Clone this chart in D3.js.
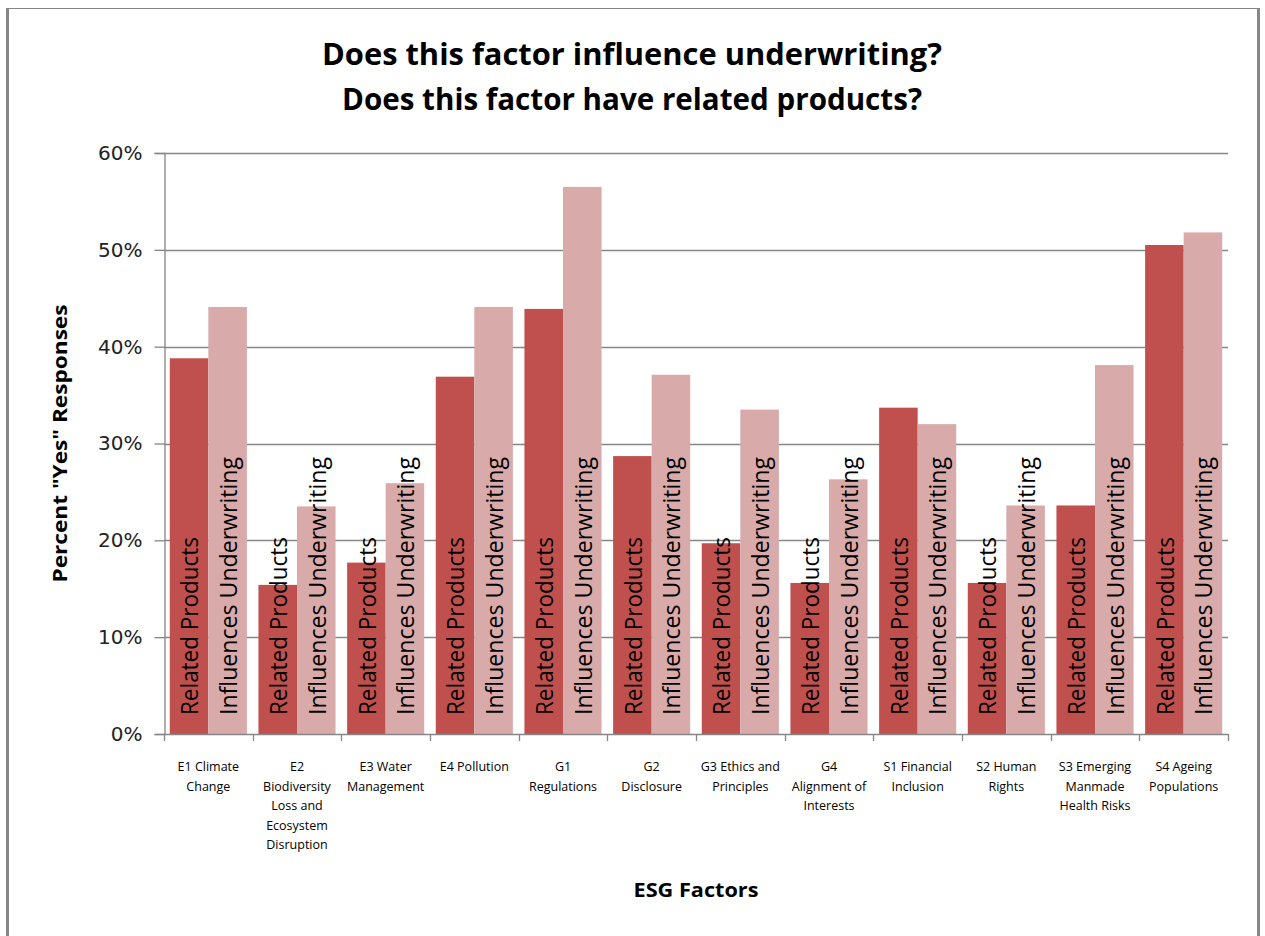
<!DOCTYPE html>
<html>
<head>
<meta charset="utf-8">
<script src="https://cdn.jsdelivr.net/npm/d3@7/dist/d3.min.js"></script>
<style>
  html, body { margin: 0; padding: 0; background: #ffffff; }
  svg { display: block; }
</style>
</head>
<body>
<svg id="chart" width="1265" height="936"></svg>
<script>
// ESG factors surveyed
const categories = [
  "E1 Climate Change",
  "E2 Biodiversity Loss and Ecosystem Disruption",
  "E3 Water Management",
  "E4 Pollution",
  "G1 Regulations",
  "G2 Disclosure",
  "G3 Ethics and Principles",
  "G4 Alignment of Interests",
  "S1 Financial Inclusion",
  "S2 Human Rights",
  "S3 Emerging Manmade Health Risks",
  "S4 Ageing Populations"
];

// Axis tick labels, wrapped as they appear under each group
const tickLabels = [
  ["E1 Climate", "Change"],
  ["E2", "Biodiversity", "Loss and", "Ecosystem", "Disruption"],
  ["E3 Water", "Management"],
  ["E4 Pollution"],
  ["G1", "Regulations"],
  ["G2", "Disclosure"],
  ["G3 Ethics and", "Principles"],
  ["G4", "Alignment of", "Interests"],
  ["S1 Financial", "Inclusion"],
  ["S2 Human", "Rights"],
  ["S3 Emerging", "Manmade", "Health Risks"],
  ["S4 Ageing", "Populations"]
];

const seriesNames = ["Related Products", "Influences Underwriting"];

// Share of "Yes" responses (percent)
const relatedProducts = [38.8, 15.4, 17.7, 36.9, 43.9, 28.7, 19.7, 15.6, 33.7, 15.6, 23.6, 50.5];
const influencesUnderwriting = [44.1, 23.5, 25.9, 44.1, 56.5, 37.1, 33.5, 26.3, 32.0, 23.6, 38.1, 51.8];

const yTicks = [0, 10, 20, 30, 40, 50, 60];

const seriesColors = ["#C0504D", "#D9AAAA"];

const svg = d3.select("#chart");

// Chart area frame
const frame = svg.append("g");
frame.append("line").attr("x1", 6).attr("x2", 1259).attr("y1", 8.5).attr("y2", 8.5)
  .attr("stroke", "#868686").attr("stroke-width", 1.2);
frame.append("line").attr("x1", 7.5).attr("x2", 7.5).attr("y1", 8).attr("y2", 936)
  .attr("stroke", "#868686").attr("stroke-width", 3);
frame.append("line").attr("x1", 1258.5).attr("x2", 1258.5).attr("y1", 8).attr("y2", 936)
  .attr("stroke", "#868686").attr("stroke-width", 3);

const plot = { left: 164, right: 1228, top: 153, bottom: 734 };

const y = d3.scaleLinear().domain([0, 60]).range([plot.bottom, plot.top]);
const x0 = d3.scaleBand().domain(categories).range([plot.left, plot.right]).padding(0);
const x1 = d3.scaleBand().domain(seriesNames).range([0, x0.bandwidth()])
  .paddingInner(0).paddingOuter(0.15);

// Horizontal gridlines
svg.append("g")
  .selectAll("line")
  .data(yTicks.filter(t => t > 0))
  .join("line")
  .attr("x1", plot.left).attr("x2", plot.right)
  .attr("y1", d => Math.round(y(d)) + 0.5).attr("y2", d => Math.round(y(d)) + 0.5)
  .attr("stroke", "#868686").attr("stroke-width", 1.3);

// Y axis
const yAxis = svg.append("g")
  .attr("transform", `translate(${plot.left + 0.5},0)`)
  .call(d3.axisLeft(y).tickValues(yTicks).tickSize(10).tickPadding(12)
    .tickFormat(d => d + "%"));
yAxis.select(".domain").attr("stroke", "#868686").attr("stroke-width", 1.3);
yAxis.selectAll(".tick line").attr("stroke", "#868686").attr("stroke-width", 1.3);
yAxis.selectAll(".tick text")
  .attr("font-family", "'DejaVu Sans', sans-serif")
  .attr("font-size", 20)
  .attr("fill", "#222");

// Bars
const rows = categories.map((c, i) => ({
  category: c,
  values: [relatedProducts[i], influencesUnderwriting[i]]
}));

const groups = svg.append("g")
  .selectAll("g")
  .data(rows)
  .join("g")
  .attr("transform", d => `translate(${x0(d.category)},0)`);

groups.selectAll("rect")
  .data(d => d.values.map((v, k) => ({ series: seriesNames[k], value: v, k })))
  .join("rect")
  .attr("x", d => x1(d.series))
  .attr("width", x1.bandwidth())
  .attr("y", d => y(d.value))
  .attr("height", d => y(0) - y(d.value))
  .attr("fill", d => seriesColors[d.k]);

// Series-name labels rotated inside the base of each bar
const labelLengths = { "Related Products": 178, "Influences Underwriting": 258 };
groups.selectAll("text.series-label")
  .data(d => d.values.map((v, k) => ({ series: seriesNames[k], value: v, k })))
  .join("text")
  .attr("class", "series-label")
  .attr("transform", d => `translate(${x1(d.series) + x1.bandwidth() / 2 + 1},${y(0) - 19}) rotate(-90)`)
  .attr("dy", "0.36em")
  .attr("font-family", "'Open Sans', sans-serif")
  .attr("font-size", 23)
  .attr("textLength", d => labelLengths[d.series])
  .attr("lengthAdjust", "spacingAndGlyphs")
  .attr("fill", "#000")
  .text(d => d.series);

// X axis baseline and category ticks
const xAxis = svg.append("g");
xAxis.append("line")
  .attr("x1", plot.left).attr("x2", plot.right)
  .attr("y1", Math.round(y(0)) + 0.5).attr("y2", Math.round(y(0)) + 0.5)
  .attr("stroke", "#868686").attr("stroke-width", 1.3);
const boundaries = categories.map(c => x0(c)).concat([plot.right]);
xAxis.selectAll("line.tick")
  .data(boundaries)
  .join("line")
  .attr("class", "tick")
  .attr("x1", d => Math.round(d) + 0.5).attr("x2", d => Math.round(d) + 0.5)
  .attr("y1", y(0)).attr("y2", y(0) + 7)
  .attr("stroke", "#868686").attr("stroke-width", 1.3);

// Category tick labels
const tickText = xAxis.selectAll("text.cat")
  .data(categories)
  .join("text")
  .attr("class", "cat")
  .attr("x", d => x0(d) + x0.bandwidth() / 2)
  .attr("y", 771)
  .attr("text-anchor", "middle")
  .attr("font-family", "'Open Sans', sans-serif")
  .attr("font-size", 12.5)
  .attr("fill", "#000");
tickText.each(function(d, i) {
  d3.select(this).selectAll("tspan")
    .data(tickLabels[i])
    .join("tspan")
    .attr("x", x0(d) + x0.bandwidth() / 2)
    .attr("dy", (t, j) => j === 0 ? 0 : 19.5)
    .text(t => t);
});

// Titles
const title = svg.append("g")
  .attr("font-family", "'Open Sans', sans-serif")
  .attr("font-weight", "bold")
  .attr("font-size", 31)
  .attr("fill", "#000")
  .attr("text-anchor", "middle");
title.append("text").attr("x", 632).attr("y", 65)
  .attr("textLength", 620).attr("lengthAdjust", "spacingAndGlyphs")
  .text("Does this factor influence underwriting?");
title.append("text").attr("x", 632).attr("y", 110)
  .attr("textLength", 580).attr("lengthAdjust", "spacingAndGlyphs")
  .text("Does this factor have related products?");

// Axis titles
svg.append("text")
  .attr("transform", `translate(67,${(plot.top + plot.bottom) / 2}) rotate(-90)`)
  .attr("text-anchor", "middle")
  .attr("font-family", "'Open Sans', sans-serif")
  .attr("font-weight", "bold")
  .attr("font-size", 19)
  .attr("textLength", 278).attr("lengthAdjust", "spacingAndGlyphs")
  .attr("fill", "#000")
  .text('Percent "Yes" Responses');

svg.append("text")
  .attr("x", (plot.left + plot.right) / 2)
  .attr("y", 897)
  .attr("text-anchor", "middle")
  .attr("font-family", "'Open Sans', sans-serif")
  .attr("font-weight", "bold")
  .attr("font-size", 19)
  .attr("textLength", 125).attr("lengthAdjust", "spacingAndGlyphs")
  .attr("fill", "#000")
  .text("ESG Factors");
</script>
</body>
</html>
